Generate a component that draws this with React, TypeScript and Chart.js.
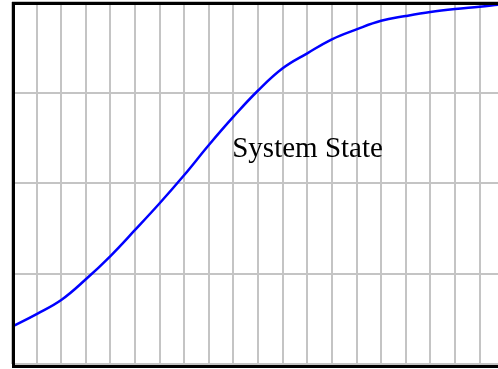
import React, { useEffect, useRef } from "react";
import { Chart, registerables } from "chart.js";

Chart.register(...registerables);

// x positions (grid units) and system state values (grid units)
const xValues = [0, 1, 2, 3, 4, 5, 6, 7, 8, 9, 10, 11, 12, 13, 14, 15, 16, 17, 18, 19, 19.75];
const stateValues = [
  0.412, 0.552, 0.707, 0.936, 1.193, 1.481, 1.776, 2.088, 2.42, 2.733, 3.022,
  3.267, 3.433, 3.588, 3.698, 3.793, 3.845, 3.89, 3.923, 3.948, 3.97,
];
const xMin = 0;
const xMax = 19.75;
const yMin = 0;
const yMax = 4;
const labelText = "System State";
const labelAt = { x: 8.95, y: 2.29 };

export default function App() {
  const ref = useRef<HTMLCanvasElement | null>(null);

  useEffect(() => {
    if (!ref.current) return;
    const framePlugin = {
      id: "frame",
      afterDatasetsDraw(chart: any) {
        const { ctx, chartArea } = chart;
        ctx.save();
        ctx.strokeStyle = "#000000";
        ctx.lineWidth = 3;
        ctx.beginPath();
        ctx.moveTo(chartArea.left, chartArea.top + 1.5);
        ctx.lineTo(chart.width, chartArea.top + 1.5);
        ctx.moveTo(chartArea.left + 1.5, chartArea.top);
        ctx.lineTo(chartArea.left + 1.5, chartArea.bottom + 4);
        ctx.moveTo(chartArea.left, chartArea.bottom + 2.5);
        ctx.lineTo(chart.width, chartArea.bottom + 2.5);
        ctx.stroke();
        const px = chart.scales.x.getPixelForValue(labelAt.x);
        const py = chart.scales.y.getPixelForValue(labelAt.y);
        ctx.fillStyle = "#000000";
        ctx.font = '29px "Liberation Serif", "Times New Roman", serif';
        ctx.textAlign = "left";
        ctx.textBaseline = "alphabetic";
        ctx.fillText(labelText, px, py);
        ctx.restore();
      },
    };
    const chart = new Chart(ref.current, {
      type: "line",
      data: {
        datasets: [
          {
            label: labelText,
            data: xValues.map((x, i) => ({ x, y: stateValues[i] })),
            borderColor: "#0000FF",
            borderWidth: 2.5,
            pointRadius: 0,
            fill: false,
            tension: 0.4,
          },
        ],
      },
      options: {
        animation: false,
        responsive: false,
        layout: { padding: { left: 12, top: 2, right: 0, bottom: 5 } },
        plugins: { legend: { display: false }, tooltip: { enabled: false } },
        scales: {
          x: {
            type: "linear",
            min: xMin,
            max: xMax,
            ticks: { display: false, stepSize: 1, includeBounds: false },
            grid: { color: "#c4c4c4", lineWidth: 2, drawTicks: false },
            border: { display: false },
          },
          y: {
            type: "linear",
            min: yMin,
            max: yMax,
            ticks: { display: false, stepSize: 1 },
            grid: { color: "#c4c4c4", lineWidth: 2, drawTicks: false },
            border: { display: false },
          },
        },
      },
      plugins: [framePlugin],
    });
    return () => chart.destroy();
  }, []);

  return (
    <div style={{ position: "fixed", left: 0, top: 0, width: 498, height: 369, background: "#fff" }}>
      <canvas ref={ref} width={498} height={369} style={{ display: "block" }} />
    </div>
  );
}
